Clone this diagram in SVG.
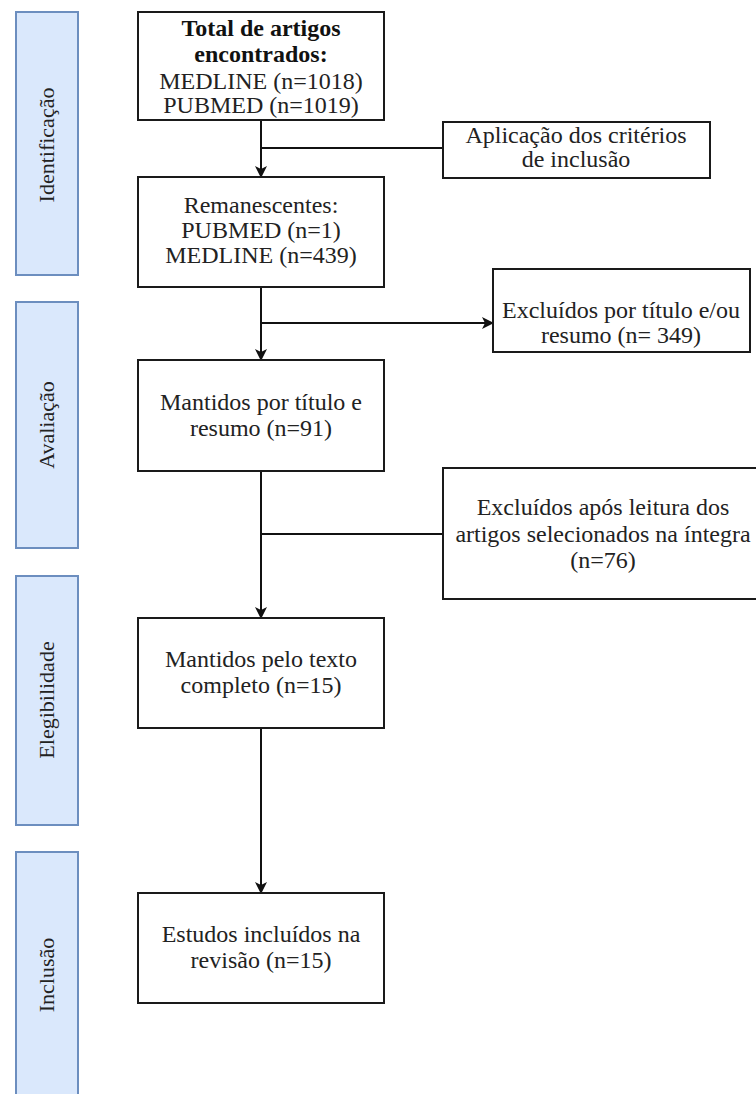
<svg xmlns="http://www.w3.org/2000/svg" width="756" height="1094" viewBox="0 0 756 1094">
<style>
.lane{fill:#dae8fc;stroke:#6c8ebf;stroke-width:2}
.box{fill:#ffffff;stroke:#1a1a1a;stroke-width:2}
.c{fill:none;stroke:#111;stroke-width:2}
</style>
<defs>
<marker id="ah" viewBox="0 0 12 12" refX="11" refY="6" markerWidth="12" markerHeight="12" markerUnits="userSpaceOnUse" orient="auto">
<path d="M0,0 L12,6 L0,12 L3,6 Z" fill="#111"/>
</marker>
</defs>
<g id="lane-identificacao"><rect class="lane" x="16" y="12" width="62" height="263"/><text font-family="Liberation Serif" font-size="22" fill="#222" text-anchor="middle" transform="translate(54,145) rotate(-90)">Identificação</text></g>
<g id="lane-avaliacao"><rect class="lane" x="16" y="302" width="62" height="246"/><text font-family="Liberation Serif" font-size="22" fill="#222" text-anchor="middle" transform="translate(54,425) rotate(-90)">Avaliação</text></g>
<g id="lane-elegibilidade"><rect class="lane" x="16" y="576" width="62" height="249"/><text font-family="Liberation Serif" font-size="22" fill="#222" text-anchor="middle" transform="translate(54,700) rotate(-90)">Elegibilidade</text></g>
<g id="lane-inclusao"><rect class="lane" x="16" y="852" width="62" height="260"/><text font-family="Liberation Serif" font-size="22" fill="#222" text-anchor="middle" transform="translate(54,975) rotate(-90)">Inclusão</text></g>
<g id="connectors">
<line class="c" x1="261" y1="120" x2="261" y2="177" marker-end="url(#ah)"/>
<line class="c" x1="261" y1="148" x2="443" y2="148"/>
<line class="c" x1="261" y1="287" x2="261" y2="360" marker-end="url(#ah)"/>
<line class="c" x1="261" y1="323" x2="493" y2="323" marker-end="url(#ah)"/>
<line class="c" x1="261" y1="471" x2="261" y2="618" marker-end="url(#ah)"/>
<line class="c" x1="261" y1="534" x2="443" y2="534"/>
<line class="c" x1="261" y1="728" x2="261" y2="893" marker-end="url(#ah)"/>
</g>
<g font-family="Liberation Serif" font-size="24" fill="#222" text-anchor="middle">
<g id="n-total"><rect class="box" x="138" y="12" width="246" height="108"/>
<text font-weight="bold" fill="#111" x="261" y="36">Total de artigos</text>
<text font-weight="bold" fill="#111" x="261" y="62">encontrados:</text>
<text x="261" y="89">MEDLINE (n=1018)</text>
<text x="261" y="113">PUBMED (n=1019)</text></g>
<g id="n-aplicacao"><rect class="box" x="443" y="122" width="267" height="56"/>
<text x="576" y="143">Aplicação dos critérios</text>
<text x="576" y="167">de inclusão</text></g>
<g id="n-remanescentes"><rect class="box" x="138" y="177" width="246" height="110"/>
<text x="261" y="213">Remanescentes:</text>
<text x="261" y="238">PUBMED (n=1)</text>
<text x="261" y="263">MEDLINE (n=439)</text></g>
<g id="n-excl1"><rect class="box" x="493" y="269" width="257" height="83"/>
<text x="621" y="318">Excluídos por título e/ou</text>
<text x="621" y="343">resumo (n= 349)</text></g>
<g id="n-mantidos1"><rect class="box" x="138" y="360" width="246" height="111"/>
<text x="261" y="410">Mantidos por título e</text>
<text x="261" y="436">resumo (n=91)</text></g>
<g id="n-excl2"><rect class="box" x="443" y="468" width="320" height="131"/>
<text x="603" y="515">Excluídos após leitura dos</text>
<text x="603" y="542">artigos selecionados na íntegra</text>
<text x="603" y="568">(n=76)</text></g>
<g id="n-mantidos2"><rect class="box" x="138" y="618" width="246" height="110"/>
<text x="261" y="667">Mantidos pelo texto</text>
<text x="261" y="693">completo (n=15)</text></g>
<g id="n-incluidos"><rect class="box" x="138" y="893" width="246" height="110"/>
<text x="261" y="942">Estudos incluídos na</text>
<text x="261" y="968">revisão (n=15)</text></g>
</g>
</svg>
